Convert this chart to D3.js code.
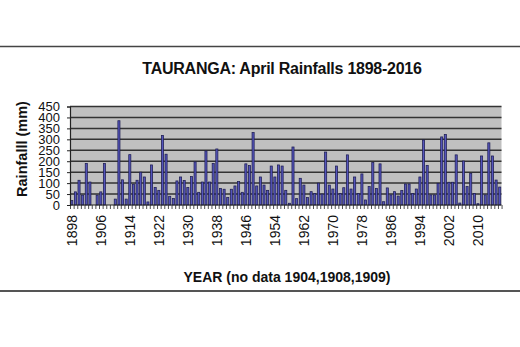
<!DOCTYPE html>
<html>
<head>
<meta charset="utf-8">
<script src="https://cdn.jsdelivr.net/npm/d3@7"></script>
<style>
  html, body { margin: 0; padding: 0; background: #fff; }
  svg { display: block; font-family: "Liberation Sans", Arial, sans-serif; }
</style>
</head>
<body>
<svg id="chart" width="520" height="347"></svg>
<script>
// April rainfall at Tauranga, 1898-2016 (mm); null = no record
const years = d3.range(1898, 2017);
const rainfall = [
  20, 60, 113, 45, 190, 105, null, 45, 60, 190,        // 1898-1907
  null, null, 27, 385, 115, 27, 230, 95, 113, 150,     // 1908-1917
  128, 14, 183, 80, 67, 318, 232, 40, 30, 110,         // 1918-1927
  128, 112, 80, 130, 197, 58, 105, 247, 105, 190,      // 1928-1937
  256, 76, 72, 35, 72, 87, 107, 58, 188, 180,          // 1938-1947
  331, 87, 128, 91, 67, 178, 128, 183, 178, 67,        // 1948-1957
  8, 265, 29, 122, 91, 34, 61, 53, 100, 50,            // 1958-1967
  242, 91, 73, 178, 53, 79, 229, 73, 128, 53,          // 1968-1977
  142, 23, 84, 194, 76, 188, 15, 78, 46, 61,           // 1978-1987
  41, 66, 96, 96, 53, 73, 128, 297, 181, 46,           // 1988-1997
  46, 99, 311, 322, 104, 104, 229, 9, 201, 84,         // 1998-2007
  145, 53, 6, 224, 46, 284, 224, 114, 82               // 2008-2016
];
const yTicks = [0, 50, 100, 150, 200, 250, 300, 350, 400, 450];
const labelYears = d3.range(1898, 2017, 8);

const titleText = "TAURANGA: April Rainfalls 1898-2016";
const yTitle = "Rainfalll (mm)";
const xTitle = "YEAR (no data 1904,1908,1909)";

const data = years.map((y, i) => ({ year: y, value: rainfall[i] }));

const svg = d3.select("#chart");
const plot = { left: 70, right: 501.5, top: 106.5, bottom: 205 };

const x = d3.scaleBand()
  .domain(years)
  .range([plot.left, plot.right])
  .paddingInner(0.42)
  .paddingOuter(0.2);

const y = d3.scaleLinear()
  .domain([0, 450])
  .range([plot.bottom, plot.top]);

// page rules above and below the chart
svg.append("line")
  .attr("x1", 0).attr("x2", 520).attr("y1", 46.5).attr("y2", 46.5)
  .attr("stroke", "#444").attr("stroke-width", 1.5);
svg.append("line")
  .attr("x1", 0).attr("x2", 520).attr("y1", 291).attr("y2", 291)
  .attr("stroke", "#555").attr("stroke-width", 2);

// plot background
svg.append("rect")
  .attr("x", plot.left).attr("y", plot.top)
  .attr("width", plot.right - plot.left).attr("height", plot.bottom - plot.top)
  .attr("fill", "#c0c0c0");

// horizontal gridlines
svg.append("g")
  .selectAll("line")
  .data(yTicks.filter(t => t > 0))
  .join("line")
  .attr("x1", plot.left).attr("x2", plot.right)
  .attr("y1", d => y(d)).attr("y2", d => y(d))
  .attr("stroke", "#333").attr("stroke-width", 1.5);

// bars
svg.append("g")
  .selectAll("rect")
  .data(data.filter(d => d.value !== null))
  .join("rect")
  .attr("x", d => x(d.year))
  .attr("width", x.bandwidth())
  .attr("y", d => y(d.value))
  .attr("height", d => y(0) - y(d.value))
  .attr("fill", "#5454bc")
  .attr("stroke", "#1e1e52")
  .attr("stroke-width", 0.75);

// y axis
const yAxis = d3.axisLeft(y)
  .tickValues(yTicks)
  .tickSize(3)
  .tickPadding(7);
const gy = svg.append("g")
  .attr("transform", `translate(${plot.left},0)`)
  .call(yAxis);
gy.select(".domain").attr("stroke", "#222").attr("stroke-width", 1.2);
gy.selectAll(".tick line").attr("stroke", "#222");
gy.selectAll("text")
  .attr("font-size", 13)
  .attr("font-family", "Liberation Sans, Arial, sans-serif")
  .attr("fill", "#111");

// x axis: a tick at each category boundary, labels every 8 years
const step = x.step();
const gx = svg.append("g")
  .attr("transform", `translate(0,${plot.bottom})`);
gx.append("line")
  .attr("x1", plot.left).attr("x2", plot.right)
  .attr("stroke", "#222").attr("stroke-width", 1.2);
gx.selectAll("line.tick")
  .data(years.concat([2017]))
  .join("line")
  .attr("class", "tick")
  .attr("x1", d => plot.left + (d - 1898) * step + 0.5)
  .attr("x2", d => plot.left + (d - 1898) * step + 0.5)
  .attr("y1", 0).attr("y2", 4)
  .attr("stroke", "#222").attr("stroke-width", 0.8);
gx.selectAll("text")
  .data(labelYears)
  .join("text")
  .attr("transform", d => `translate(${x(d) + x.bandwidth() / 2 + 5.5},10) rotate(-90)`)
  .attr("text-anchor", "end")
  .attr("font-size", 14)
  .attr("fill", "#111")
  .text(d => d);

// titles
svg.append("text")
  .attr("x", 282).attr("y", 74)
  .attr("text-anchor", "middle")
  .attr("font-size", 16).attr("font-weight", "bold")
  .attr("letter-spacing", -0.25)
  .attr("fill", "#111")
  .text(titleText);

svg.append("text")
  .attr("transform", "translate(27,149) rotate(-90)")
  .attr("text-anchor", "middle")
  .attr("font-size", 14.5).attr("font-weight", "bold")
  .attr("fill", "#111")
  .text(yTitle);

svg.append("text")
  .attr("x", 287).attr("y", 282)
  .attr("text-anchor", "middle")
  .attr("font-size", 14).attr("font-weight", "bold")
  .attr("fill", "#111")
  .text(xTitle);
</script>
</body>
</html>
